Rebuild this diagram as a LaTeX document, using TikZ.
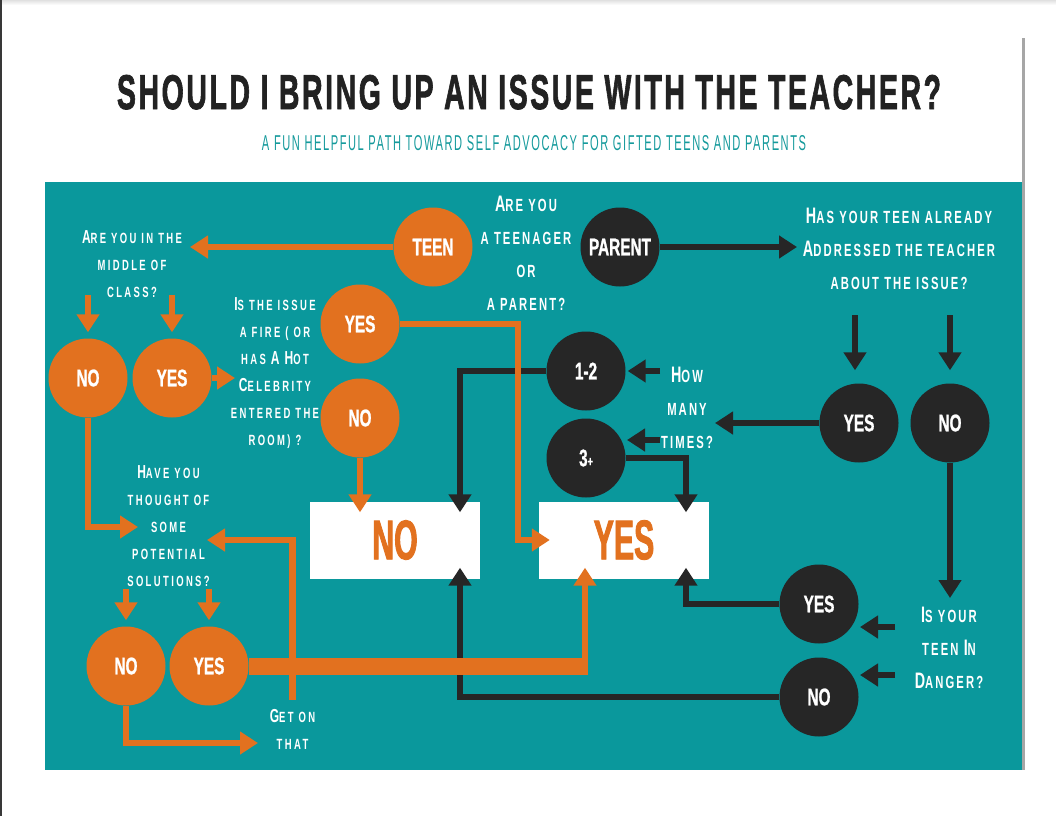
\documentclass[tikz,border=0pt]{standalone}
\usepackage{fontspec}
\usepackage{graphicx}
\usetikzlibrary{arrows.meta,calc}
\setmainfont{Liberation Sans}
\newfontfamily\labf{Liberation Sans}[FakeStretch=0.64,FakeBold=1]
\newfontfamily\boxff{Liberation Sans}[FakeStretch=0.54,FakeBold=1.5]
\newfontfamily\qfontB{Liberation Sans}[FakeStretch=0.64,LetterSpace=12]
\newfontfamily\qfontS{Liberation Sans}[FakeStretch=0.64,LetterSpace=16]
\newfontfamily\subff{Liberation Sans}[LetterSpace=14]
\newfontfamily\titlef{Liberation Sans}[LetterSpace=9,FakeBold=2]
\definecolor{panelteal}{HTML}{0A989C}
\definecolor{orng}{HTML}{E2711F}
\definecolor{drk}{HTML}{262626}
\definecolor{titlec}{HTML}{222222}
\definecolor{subc}{HTML}{159A9C}
\newcommand\qbigf{\qfontB\bfseries\fontsize{17.6}{33}\selectfont\def\capsz{22.4}}
\newcommand\qsmf{\qfontS\bfseries\fontsize{14.8}{27}\selectfont\def\capsz{18.8}}
\newcommand\bigL[1]{{\fontsize{\capsz}{\capsz}\selectfont #1}}
\newcommand\labfont{\labf\bfseries\fontsize{24}{24}\selectfont}
\newcommand\boxfont{\boxff\bfseries\fontsize{56}{56}\selectfont}
\tikzset{
  ocirc/.style={circle, fill=orng, minimum size=79pt, inner sep=0pt, text=white, font=\labfont},
  dcirc/.style={circle, fill=drk, minimum size=79pt, inner sep=0pt, text=white, font=\labfont},
  boxn/.style={rectangle, fill=white, minimum width=170pt, minimum height=77pt, inner sep=0pt, text=orng, font=\boxfont},
  qbig/.style={text=white, align=center, font=\qbigf, inner sep=0pt},
  qsm/.style={text=white, align=center, font=\qsmf, inner sep=0pt},
  tipstyle/.style={-{Triangle[width=22pt,length=18pt]}},
  oarr/.style={draw=orng, line width=6.5pt, tipstyle},
  darr/.style={draw=drk, line width=6.5pt, tipstyle},
  othick/.style={draw=orng, line width=17pt},
}
\begin{document}
\begin{tikzpicture}[x=1pt,y=-1pt]
\useasboundingbox (0,0) rectangle (1056,816);
\fill[white] (0,0) rectangle (1056,816);
\shade[top color=black!12, bottom color=white] (0,0) rectangle (1056,5);
\fill[black!78] (0,0) rectangle (2,816);
\fill[black!35] (1022,38) rectangle (1024.5,770);
\fill[panelteal] (45,182) rectangle (1022,770);

% title
\node[anchor=base, inner sep=0pt, text=titlec] (title) at (529,109)
  {\resizebox{824pt}{34pt}{\titlef\bfseries SHOULD I BRING UP AN ISSUE WITH THE TEACHER?}};
\node[anchor=base, inner sep=0pt, text=subc] (subtitle) at (534,150)
  {\resizebox{544pt}{15pt}{\subff A FUN HELPFUL PATH TOWARD SELF ADVOCACY FOR GIFTED TEENS AND PARENTS}};

% nodes
\node[ocirc] (teen) at (433,247) {TEEN};
\node[dcirc] (parent) at (620,247) {PARENT};
\node[qbig] (qrole) at (526,253) {\bigL{A}RE YOU\\A TEENAGER\\OR\\A PARENT?};
\node[qsm] (qclass) at (132,264) {\bigL{A}RE YOU IN THE\\MIDDLE OF\\CLASS?};
\node[qbig] (qaddr) at (899,249) {\bigL{H}AS YOUR TEEN ALREADY\\\bigL{A}DDRESSED THE TEACHER\\ABOUT THE ISSUE?};
\node[ocirc] (no1) at (88,378) {NO};
\node[ocirc] (yes1) at (172,378) {YES};
\node[qsm] (qfire) at (275,373.5) {\bigL{I}S THE ISSUE\\A FIRE ( OR\\HAS \bigL{A} \bigL{H}OT\\\bigL{C}ELEBRITY\\ENTERED THE\\ROOM) ?};
\node[ocirc] (yes2) at (360,324) {YES};
\node[ocirc] (no2) at (360,418) {NO};
\node[boxn] (nobox) at (395,540) {NO};
\node[boxn] (yesbox) at (624,540) {YES};
\node[dcirc] (one2) at (586,371) {1-2};
\node[dcirc] (three) at (586,458) {3{\fontsize{14}{14}\selectfont +}};
\node[qbig] (qtimes) at (687,408) {\bigL{H}OW\\MANY\\TIMES?};
\node[dcirc] (yes4) at (859,423) {YES};
\node[dcirc] (no4) at (950,423) {NO};
\node[qbig] (qdanger) at (949,648) {\bigL{I}S YOUR\\TEEN \bigL{I}N\\\bigL{D}ANGER?};
\node[dcirc] (yes5) at (819,604) {YES};
\node[dcirc] (no5) at (819,697) {NO};
\node[qsm] (qsol) at (168.5,526.5) {\bigL{H}AVE YOU\\THOUGHT OF\\SOME\\POTENTIAL\\SOLUTIONS?};
\node[ocirc] (no3) at (126,666) {NO};
\node[ocirc] (yes3) at (209,666) {YES};
\node[qsm] (qgot) at (292.5,729) {\bigL{G}ET ON\\THAT};

% coordinates
\coordinate (tClass) at (190,247);
\coordinate (tAddr) at (797,247);
\coordinate (tFire) at (235,378);
\coordinate (nbT) at ($(nobox.north)+(65,11)$);
\coordinate (nbB) at ($(nobox.south)+(65,-11)$);
\coordinate (ybT) at ($(yesbox.north)+(62,11)$);
\coordinate (ybB) at ($(yesbox.south)+(62,-11)$);
\coordinate (ybO) at ($(yesbox.south)+(-39,-11)$);
\coordinate (ybW) at ($(yesbox.west)+(11,0)$);
\coordinate (tSol1) at (138,527);
\coordinate (tSol2) at (207,540);
\coordinate (tGot) at (258,743);
\coordinate (tTimes) at (715,423);
\coordinate (tDanger) at (950,598);
\coordinate (h1s) at (660,371);
\coordinate (h2s) at (660,440);
\coordinate (h2e) at (627,440);
\coordinate (d1s) at (895,627);
\coordinate (d1e) at (860,627);
\coordinate (d2s) at (895,675);
\coordinate (d2e) at (860,675);

% dark connectors
\draw[darr] (parent.east) -- (tAddr);
\draw[darr] ([xshift=-4pt,yshift=68pt]yes4.north) -- ([xshift=-4pt,yshift=13pt]yes4.north);
\draw[darr] ([yshift=68pt]no4.north) -- ([yshift=13pt]no4.north);
\draw[darr] (yes4.west) -- (tTimes);
\draw[darr] (h1s) -- ([xshift=2pt]one2.east);
\draw[darr] (h2s) -- (h2e);
\draw[darr] (one2.west) -| (nbT);
\draw[darr] (three.east) -| (ybT);
\draw[darr] (no4.south) -- (tDanger);
\draw[darr] (d1s) -- (d1e);
\draw[darr] (d2s) -- (d2e);
\draw[darr] (yes5.west) -| (ybB);
\draw[darr] (no5.west) -| (nbB);

% orange connectors
\draw[oarr] (teen.west) -- (tClass);
\draw[oarr] ([yshift=43pt]no1.north) -- ([yshift=6pt]no1.north);
\draw[oarr] ([yshift=43pt]yes1.north) -- ([yshift=6pt]yes1.north);
\draw[oarr] (yes1.east) -- (tFire);
\draw[oarr] (yes2.east) -| ($(ybW)+(-32,0)$) -- (ybW);
\draw[oarr] (no2.south) -- (no2.south |- nbT);
\draw[oarr] (no1.south) |- (tSol1);
\draw[oarr] ([yshift=37pt]no3.north) -- ([yshift=6pt]no3.north);
\draw[oarr] ([yshift=37pt]yes3.north) -- ([yshift=6pt]yes3.north);
\draw[othick, shorten >=-3pt] (yes3.east) -- (yes3.east -| ybO);
\draw[oarr] ($(yes3.east -| ybO)+(0,8.5)$) -- (ybO);
\draw[oarr] ([yshift=9pt]qgot.north) |- (tSol2);
\draw[oarr] (no3.south) |- (tGot);
\end{tikzpicture}
\end{document}
